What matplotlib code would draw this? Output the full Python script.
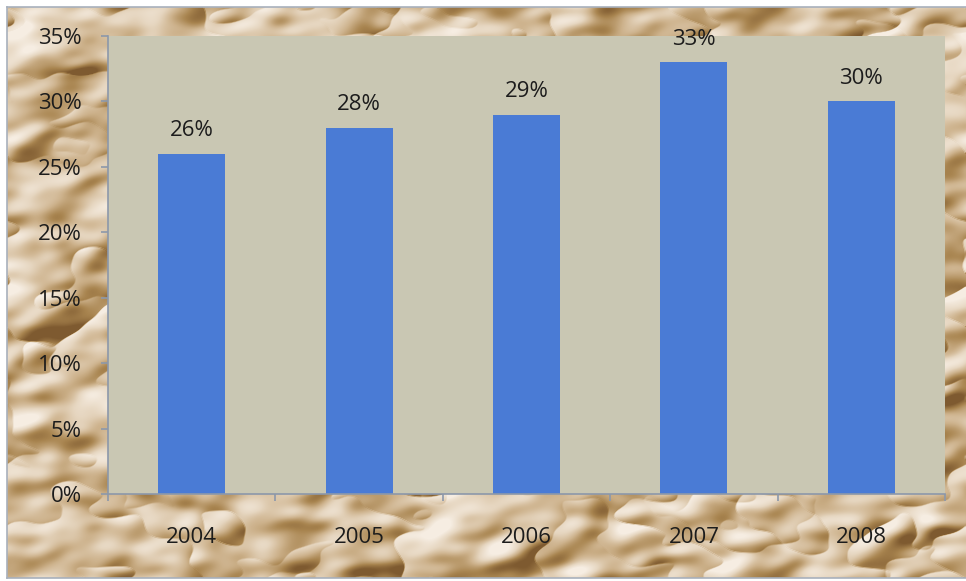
import numpy as np
import matplotlib
matplotlib.use("Agg")
import matplotlib.pyplot as plt
from matplotlib.colors import LinearSegmentedColormap
from matplotlib.ticker import FixedLocator, FuncFormatter

years = ["2004", "2005", "2006", "2007", "2008"]
shares = [26, 28, 29, 33, 30]          # percent
y_ticks = [0, 5, 10, 15, 20, 25, 30, 35]

plt.rcParams["font.family"] = ["Open Sans", "DejaVu Sans"]

W, H = 966, 581
fig = plt.figure(figsize=(W / 100, H / 100), dpi=100, facecolor="white")


def paper_texture(h, w, seed=11):
    # crumpled paper: ridged band-limited noise, lit from the upper left
    rng = np.random.default_rng(seed)
    fy = np.fft.fftfreq(h)[:, None]
    fx = np.fft.rfftfreq(w)[None, :]
    f = np.sqrt((fx * 1.4) ** 2 + (fy * 0.8) ** 2)
    amp = (f + 0.003) ** -1.7 * np.exp(-(f / 0.035) ** 2)
    layers = []
    for _ in range(2):
        spec = np.fft.rfft2(rng.standard_normal((h, w))) * amp
        layers.append(np.fft.irfft2(spec, s=(h, w)))
    hgt = -np.abs(layers[0]) - 0.7 * np.abs(layers[1])
    gy, gx = np.gradient(hgt)
    shade = -(gx * 0.75 + gy * 0.65)
    shade = shade / (np.percentile(np.abs(shade), 97) + 1e-9)
    return np.clip(0.55 + 0.5 * shade, 0, 1)


paper = LinearSegmentedColormap.from_list(
    "paper", ["#7e5a30", "#a8844f", "#cdb28c", "#e6d6c0", "#f6ede2"])

bg = fig.add_axes([7 / W, 3 / H, 959 / W, 571 / H], zorder=0)
bg.imshow(paper_texture(571, 959), cmap=paper, vmin=0, vmax=1,
          aspect="auto", interpolation="bilinear")
bg.set_xticks([])
bg.set_yticks([])
for side, s in bg.spines.items():
    s.set_color("#a8b0bc")
    s.set_linewidth(1.2)
bg.spines["right"].set_visible(False)

ax = fig.add_axes([108 / W, 87 / H, 837 / W, 458 / H], zorder=1)
ax.set_facecolor("#c9c7b3")
x = np.arange(len(years))
ax.bar(x, shares, width=0.4, color="#4a7bd5", zorder=2)

for xi, v in zip(x, shares):
    ax.annotate(f"{v}%", (xi, v), xytext=(0, 9), textcoords="offset points",
                ha="center", va="bottom", fontsize=16, color="#1c1c1c",
                clip_on=False)

ax.set_xlim(-0.5, len(years) - 0.5)
ax.set_ylim(0, 35)
ax.yaxis.set_major_locator(FixedLocator(y_ticks))
ax.yaxis.set_major_formatter(FuncFormatter(lambda v, _: f"{v:.0f}%"))
ax.set_xticks(x)
ax.set_xticklabels(years)
ax.xaxis.set_minor_locator(FixedLocator(np.arange(-0.5, len(years), 1.0)))

axis_col = "#8c98aa"
for side in ("top", "right"):
    ax.spines[side].set_visible(False)
for side in ("left", "bottom"):
    ax.spines[side].set_color(axis_col)
    ax.spines[side].set_linewidth(1.2)

ax.tick_params(axis="y", length=5, width=1.2, color=axis_col, pad=14,
               labelsize=16, labelcolor="#1c1c1c")
ax.tick_params(axis="x", which="major", length=0, pad=24,
               labelsize=16, labelcolor="#1c1c1c")
ax.tick_params(axis="x", which="minor", length=5, width=1.2, color=axis_col)

fig.savefig("out.png", dpi=100, facecolor="white")
